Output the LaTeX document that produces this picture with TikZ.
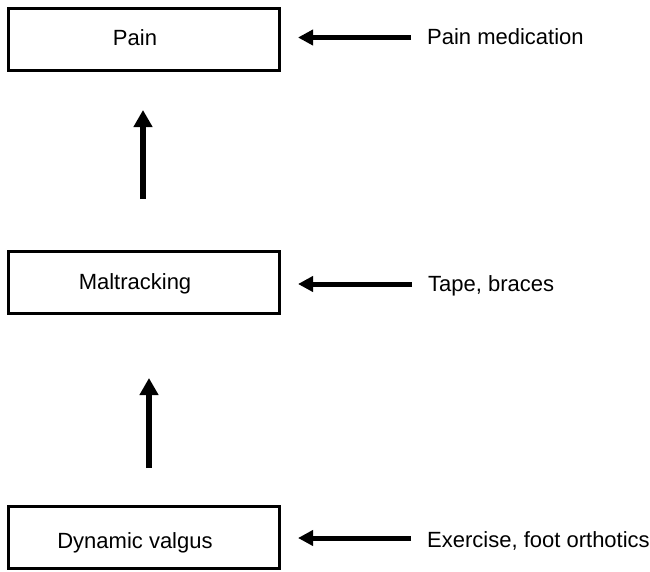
\documentclass[tikz,border=0pt]{standalone}
\usepackage{fontspec}
\setmainfont{Liberation Sans}
\usetikzlibrary{arrows.meta}
\begin{document}
\begin{tikzpicture}[x=1pt,y=-1pt,
  box/.style={draw, line width=3pt, minimum width=271pt, minimum height=62pt, inner sep=0pt},
  lbl/.style={font=\fontsize{22}{26}\selectfont, inner sep=0pt, anchor=base},
  side/.style={font=\fontsize{22}{26}\selectfont, inner sep=0pt, anchor=base west},
  uparrow/.style={line width=6pt, -{Triangle[length=17pt,width=18pt]}},
  leftarrow/.style={line width=5pt, -{Triangle[length=15pt,width=15pt]}, shorten <=16pt, shorten >=17pt}]
\useasboundingbox (0,0) rectangle (650,571);
% boxes
\node[box] (pain) at (144,39) {};
\node[box] (mal) at (144,282) {};
\node[box] (dyn) at (144,537) {};
% box texts
\node[lbl] (paintxt) at (135,45) {Pain};
\node[lbl] (maltxt) at (135,289) {Maltracking};
\node[lbl] (dyntxt) at (135,548) {Dynamic valgus};
% side texts
\node[side] (med) at (427,44) {Pain medication};
\node[side] (tape) at (428,291) {Tape, braces};
\node[side] (ex) at (427,547) {Exercise, foot orthotics};
% vertical arrows
\draw[uparrow, shorten <=50.5pt, shorten >=38.5pt] ([xshift=-1pt]mal.north) -- ([xshift=-1pt]pain.south);
\draw[uparrow, shorten <=36.5pt, shorten >=63.5pt] ([xshift=5pt]dyn.north) -- ([xshift=5pt]mal.south);
% horizontal arrows
\draw[leftarrow] ([yshift=1.5pt]pain.east -| med.west) -- ([yshift=1.5pt]pain.east);
\draw[leftarrow] ([yshift=-2pt]mal.east -| tape.west) -- ([yshift=-2pt]mal.east);
\draw[leftarrow] ([yshift=-1pt]dyn.east -| ex.west) -- ([yshift=-1pt]dyn.east);
\end{tikzpicture}
\end{document}
